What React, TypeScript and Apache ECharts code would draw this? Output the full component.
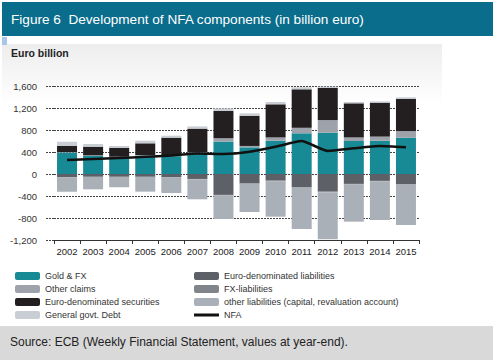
import React, { useEffect, useRef } from "react";
import * as echarts from "echarts";

const years = ["2002", "2003", "2004", "2005", "2006", "2007", "2008", "2009", "2010", "2011", "2012", "2013", "2014", "2015"];
const goldFx = [390, 330, 305, 335, 325, 385, 590, 485, 605, 740, 750, 600, 605, 660];
const otherClaims = [10, 10, 10, 10, 10, 10, 60, 25, 60, 100, 230, 65, 75, 120];
const euroSecurities = [115, 157, 158, 213, 326, 430, 495, 550, 602, 700, 584, 620, 617, 584];
const govtDebt = [73, 48, 36, 48, 36, 40, 49, 43, 42, 36, 24, 24, 24, 30];
const euroLiabilities = [-60, -50, -50, -50, -60, -90, -380, -170, -120, -240, -320, -180, -125, -185];
const fxLiabilities = [-5, -5, -5, -5, -5, -5, -10, -10, -10, -10, -10, -10, -10, -10];
const otherLiabilities = [-256, -224, -187, -266, -280, -365, -428, -511, -646, -750, -858, -677, -701, -732];
const nfa = [255, 273, 290, 312, 335, 375, 364, 405, 497, 600, 418, 467, 509, 485];

const C = {
  gold: "#178a95",
  claims: "#9ea2aa",
  sec: "#231f20",
  govt: "#c9ced4",
  eurLiab: "#5d6066",
  fxLiab: "#80848b",
  othLiab: "#aab0b8",
};

const FONT = "Liberation Sans";

export default function App() {
  const ref = useRef<HTMLDivElement>(null);
  useEffect(() => {
    document.body.style.margin = "0";
    const chart = echarts.init(ref.current!, null, { renderer: "svg" });
    const bar = (name: string, data: number[], color: string) => ({
      name,
      type: "bar",
      stack: "a",
      data,
      barWidth: 20,
      itemStyle: { color },
    });
    chart.setOption({
      animation: false,
      backgroundColor: "#ffffff",
      textStyle: { fontFamily: FONT },
      grid: { left: 54, right: 76, top: 86, bottom: 120 },
      xAxis: {
        type: "category",
        data: years,
        axisLine: { onZero: false, lineStyle: { color: "#333", width: 1 } },
        axisTick: { show: true, length: 4, lineStyle: { color: "#333" } },
        axisLabel: { color: "#222", fontSize: 9.5, margin: 6, fontFamily: FONT, interval: 0 },
      },
      yAxis: {
        type: "value",
        min: -1200,
        max: 1600,
        interval: 400,
        axisLine: { show: false },
        axisTick: { show: true, length: 9, lineStyle: { color: "#444", type: [2, 1] } },
        splitLine: { lineStyle: { color: "#444", type: [2, 1], width: 1 } },
        axisLabel: {
          color: "#333",
          fontSize: 9.5,
          margin: 17,
          fontFamily: FONT,
          formatter: (v: number) => v.toLocaleString("en-US"),
        },
      },
      legend: [
        {
          orient: "vertical",
          left: 10,
          top: 266,
          itemWidth: 25,
          itemHeight: 8,
          itemGap: 3,
          textStyle: { fontSize: 9, color: "#333", lineHeight: 10, fontFamily: FONT },
          data: ["Gold & FX", "Other claims", "Euro-denominated securities", "General govt. Debt"],
        },
        {
          orient: "vertical",
          left: 189,
          top: 266,
          itemWidth: 25,
          itemHeight: 8,
          itemGap: 3,
          textStyle: { fontSize: 9, color: "#333", lineHeight: 10, fontFamily: FONT },
          data: [
            "Euro-denominated liabilities",
            "FX-liabilities",
            "other liabilities (capital, revaluation account)",
            { name: "NFA", icon: "path://M0,0H25V3H0Z" },
          ],
        },
      ],
      series: [
        bar("Gold & FX", goldFx, C.gold),
        bar("Other claims", otherClaims, C.claims),
        bar("Euro-denominated securities", euroSecurities, C.sec),
        bar("General govt. Debt", govtDebt, C.govt),
        bar("Euro-denominated liabilities", euroLiabilities, C.eurLiab),
        bar("FX-liabilities", fxLiabilities, C.fxLiab),
        bar("other liabilities (capital, revaluation account)", otherLiabilities, C.othLiab),
        {
          name: "NFA",
          type: "line",
          data: nfa,
          symbol: "none",
          smooth: 0.15,
          lineStyle: { color: "#111", width: 2.5 },
          itemStyle: { color: "#111" },
          z: 5,
        },
      ],
      graphic: [
        {
          type: "rect",
          z: -10,
          shape: { x: 2, y: 44, width: 440, height: 60 },
          style: {
            fill: new echarts.graphic.LinearGradient(0, 0, 0, 1, [
              { offset: 0, color: "#ededed" },
              { offset: 1, color: "#ffffff" },
            ]),
          },
        },
        { type: "rect", shape: { x: 2, y: 2, width: 491, height: 34 }, style: { fill: "#0a6d8c" } },
        {
          type: "text",
          x: 11,
          y: 19,
          style: {
            text: "Figure 6  Development of NFA components (in billion euro)",
            fill: "#ffffff",
            font: `13.6px "${FONT}"`,
            verticalAlign: "middle",
          },
        },
        { type: "rect", shape: { x: 2, y: 37, width: 5, height: 8 }, style: { fill: "#a9c6e8" } },
        {
          type: "text",
          x: 11,
          y: 53,
          style: {
            text: "Euro billion",
            fill: "#222",
            font: `bold 10.5px "${FONT}"`,
            verticalAlign: "middle",
          },
        },
        { type: "rect", shape: { x: 0, y: 326, width: 493, height: 34 }, style: { fill: "#d9d9d9" } },
        {
          type: "text",
          x: 10,
          y: 342,
          style: {
            text: "Source: ECB (Weekly Financial Statement, values at year-end).",
            fill: "#222",
            font: `12px "${FONT}"`,
            verticalAlign: "middle",
          },
        },
      ],
    });
    return () => chart.dispose();
  }, []);
  return <div ref={ref} style={{ width: 495, height: 360 }} />;
}
